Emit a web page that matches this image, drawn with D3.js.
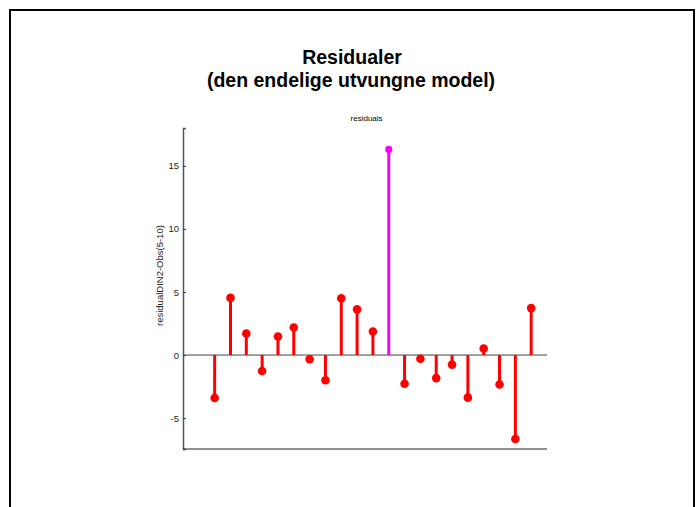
<!DOCTYPE html>
<html>
<head>
<meta charset="utf-8">
<script src="https://cdn.jsdelivr.net/npm/d3@7"></script>
<style>
  body { margin: 0; background: #fff; }
  svg { display: block; font-family: Arial, "Liberation Sans", sans-serif; }
</style>
</head>
<body>
<div id="chart"></div>
<script>
// residuals per observation (index 1..21), obs 12 is the outlier
const obsIndex = d3.range(1, 22);
const residuals = [-3.4, 4.53, 1.71, -1.26, 1.47, 2.18, -0.34, -2.0, 4.5, 3.62, 1.87,
  16.3, -2.28, -0.29, -1.83, -0.76, -3.38, 0.52, -2.33, -6.66, 3.72];
const outliers = [12];
const yTicks = [-5, 0, 5, 10, 15];

const W = 700, H = 507;
const margin = { top: 128, right: 153, bottom: 58, left: 183 };
const width = W - margin.left - margin.right;
const height = H - margin.top - margin.bottom;

const svg = d3.select('#chart')
  .append('svg')
  .attr('width', W)
  .attr('height', H);

// figure frame
svg.append('rect')
  .attr('x', 10).attr('y', 10)
  .attr('width', 684).attr('height', 520)
  .attr('fill', 'none')
  .attr('stroke', '#000')
  .attr('stroke-width', 2);

svg.append('text')
  .attr('x', 352).attr('y', 64)
  .attr('text-anchor', 'middle')
  .style('font-size', '19.5px')
  .style('font-weight', 'bold')
  .text('Residualer');

svg.append('text')
  .attr('x', 351).attr('y', 87)
  .attr('text-anchor', 'middle')
  .style('font-size', '19.5px')
  .style('font-weight', 'bold')
  .text('(den endelige utvungne model)');

const g = svg.append('g')
  .attr('transform', `translate(${margin.left},${margin.top})`);

const x = d3.scaleLinear().domain([-1, 22]).range([0, width]);
const y = d3.scaleLinear().domain([-7.45, 18]).range([height, 0]);

g.append('text')
  .attr('x', x(10.6)).attr('y', -7)
  .attr('text-anchor', 'middle')
  .style('font-size', '8px')
  .text('residuals');

// y axis, ticks inside
const yAxis = g.append('g')
  .call(d3.axisRight(y).tickValues(yTicks).tickSize(3).tickFormat(d => String(d)));
yAxis.select('.domain').attr('stroke', '#555').attr('stroke-width', 1.5);
yAxis.selectAll('.tick line').attr('stroke', '#333');
yAxis.selectAll('.tick text')
  .attr('x', -4)
  .attr('text-anchor', 'end')
  .style('font-size', '9.5px')
  .attr('fill', '#222');

// bottom axis line only
g.append('line')
  .attr('x1', 0).attr('x2', width)
  .attr('y1', height).attr('y2', height)
  .attr('stroke', '#222').attr('stroke-width', 1.2);

g.append('text')
  .attr('transform', `translate(-20,${y(6.3)}) rotate(-90)`)
  .attr('text-anchor', 'middle')
  .style('font-size', '9.5px')
  .attr('fill', '#222')
  .text('residualDIN2-Obs(5-10)');

// zero line
g.append('line')
  .attr('x1', 0).attr('x2', width)
  .attr('y1', y(0)).attr('y2', y(0))
  .attr('stroke', '#444').attr('stroke-width', 1);

const data = obsIndex.map((d, i) => ({ i: d, v: residuals[i], out: outliers.includes(d) }));
const colour = d => d.out ? '#ff00ff' : '#ff0000';

g.selectAll('.stem')
  .data(data)
  .enter()
  .append('line')
  .attr('class', 'stem')
  .attr('x1', d => x(d.i)).attr('x2', d => x(d.i))
  .attr('y1', y(0)).attr('y2', d => y(d.v))
  .attr('stroke', colour)
  .attr('stroke-width', 3);

g.selectAll('.dot')
  .data(data)
  .enter()
  .append('circle')
  .attr('class', 'dot')
  .attr('cx', d => x(d.i))
  .attr('cy', d => y(d.v))
  .attr('r', d => d.out ? 3.6 : 4.3)
  .attr('fill', colour);
</script>
</body>
</html>
